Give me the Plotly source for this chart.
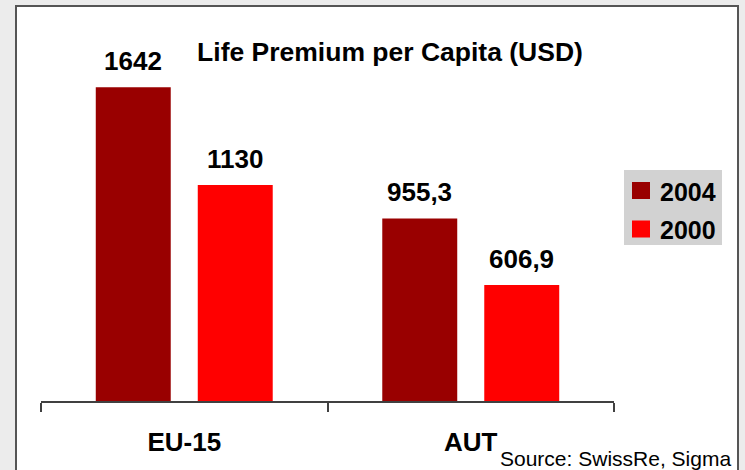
import plotly.graph_objects as go

categories = ["EU-15", "AUT"]
series_names = ["2004", "2000"]
values_2004 = [1642, 955.3]
values_2000 = [1130, 606.9]
series_values = [values_2004, values_2000]
colors = ["#990000", "#ff0000"]
title_text = "Life Premium per Capita (USD)"
source_text = "Source: SwissRe, Sigma"

W, H = 745, 470
L, R, T, B = 41, 614, 57, 401  # plot area in pixels
pw, ph = R - L, B - T

def px(x):
    return (x - L) / pw

def py(y):
    return (B - y) / ph

def fmt(v):
    s = f"{v:g}"
    return s.replace(".", ",")

FAM = "Liberation Sans, Arial, sans-serif"
bold = dict(family=FAM, color="black", weight="bold")

fig = go.Figure()
for name, vals, col in zip(series_names, series_values, colors):
    fig.add_trace(go.Bar(
        x=categories, y=vals, name=name, marker_color=col,
        marker_line_width=0, showlegend=False,
    ))

# value labels
offsets = [-51, 51]
for k, vals in enumerate(series_values):
    for c, v in zip(categories, vals):
        fig.add_annotation(x=c, y=v, xref="x", yref="y", text=fmt(v),
                           showarrow=False, xshift=offsets[k], yshift=9,
                           yanchor="bottom", xanchor="center",
                           font=dict(size=26, **bold))

# source note
fig.add_annotation(x=px(733), y=py(472), xref="paper", yref="paper",
                   text=source_text, showarrow=False, xanchor="right", yanchor="bottom",
                   font=dict(family=FAM, size=21, color="black"))

# white panel with dark border
fig.add_shape(type="rect", xref="paper", yref="paper",
              x0=px(16), x1=px(738), y0=py(490), y1=py(6),
              fillcolor="white", line=dict(color="#555555", width=2), layer="below")

# legend box
fig.add_shape(type="rect", xref="paper", yref="paper",
              x0=px(624), x1=px(722), y0=py(245), y1=py(170),
              fillcolor="#d2d2d2", line=dict(width=0), layer="below")
legend_rows = [190.5, 229]
for name, col, yc in zip(series_names, colors, legend_rows):
    fig.add_shape(type="rect", xref="paper", yref="paper",
                  x0=px(632), x1=px(650), y0=py(yc + 8.5), y1=py(yc - 8.5),
                  fillcolor=col, line=dict(width=0))
    fig.add_annotation(x=px(658), y=py(yc + 1), xref="paper", yref="paper",
                       text=name, showarrow=False, xanchor="left", yanchor="middle",
                       font=dict(size=25, **bold))

fig.update_layout(
    width=W, height=H,
    margin=dict(l=L, r=W - R, t=T, b=H - B, pad=0),
    paper_bgcolor="#ececec", plot_bgcolor="rgba(0,0,0,0)",
    barmode="group", bargap=0.288, bargroupgap=0.265,
    title=dict(text=title_text, x=390 / W, xanchor="center", y=1 - 52 / H, yanchor="middle",
               xref="container", yref="container", font=dict(size=26.5, **bold)),
    showlegend=False,
    xaxis=dict(showline=True, linecolor="#404040", linewidth=1.5,
               ticks="outside", ticklen=9, tickwidth=1.5, tickcolor="#404040",
               tickson="boundaries", ticklabelstandoff=17,
               tickfont=dict(size=26, **bold), showgrid=False, fixedrange=True),
    yaxis=dict(range=[0, 1800], visible=False, showgrid=False, zeroline=False, fixedrange=True),
)

fig.write_html("out.html", post_script="document.body.style.margin='0';",
               config={"displayModeBar": False})
